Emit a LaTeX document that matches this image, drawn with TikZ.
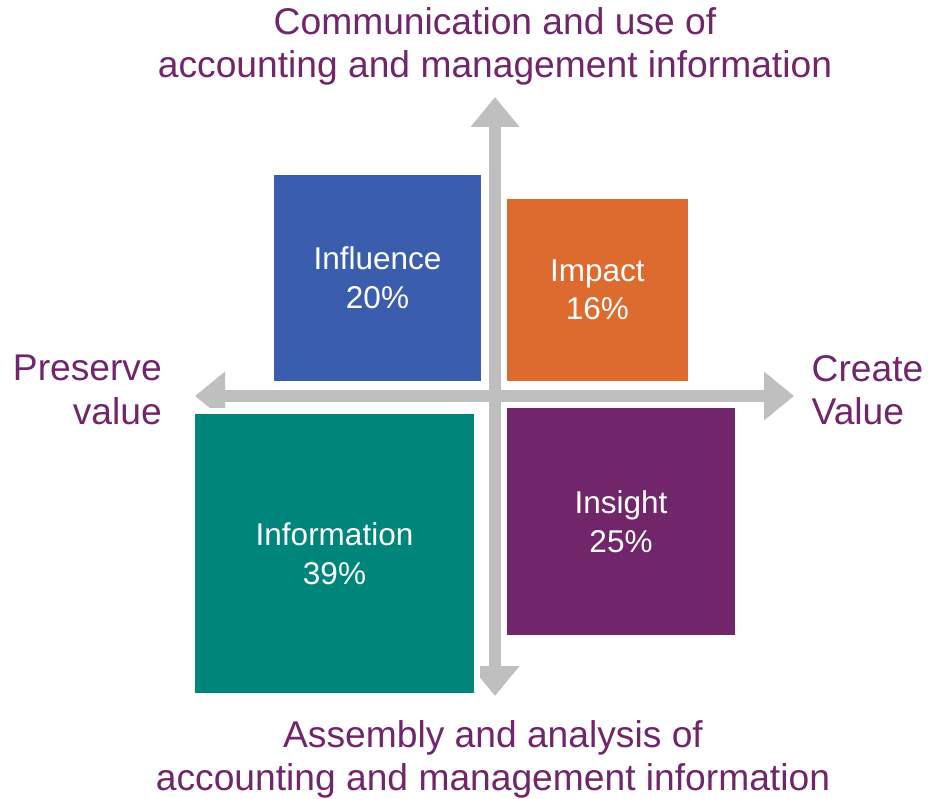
\documentclass[tikz,border=0pt]{standalone}
\usepackage{fontspec}
\setmainfont{Liberation Sans}
\usepackage{tikz}
\usetikzlibrary{arrows.meta}
\definecolor{influenceblue}{HTML}{3B5DAD}
\definecolor{impactorange}{HTML}{DD6B2F}
\definecolor{informationteal}{HTML}{00857A}
\definecolor{insightpurple}{HTML}{71256B}
\definecolor{axisgray}{HTML}{BEBFBE}

\begin{document}
\begin{tikzpicture}[x=1pt, y=-1pt,
  axis/.style={draw=axisgray, line width=11.5pt,
    arrows={Triangle[length=30pt, width=47pt]-Triangle[length=30pt, width=47pt]}},
  quadrant/.style={rectangle, draw=white, line width=6pt, text=white,
    align=center, inner sep=0pt, font=\fontsize{31.5}{38.6}\selectfont},
  sidelabel/.style={text=insightpurple, inner sep=0pt,
    font=\fontsize{37.2}{43.5}\selectfont}]
\useasboundingbox (0,0) rectangle (928,799);
% Axes
\coordinate (west) at (195,396);
\coordinate (east) at (794,396);
\coordinate (north) at (495,97);
\coordinate (south) at (495,696);
\draw [axis] (west) -- (east);
\draw [axis] (north) -- (south);
% Quadrants
\node [quadrant, fill=influenceblue, minimum width=212.4pt, minimum height=211.7pt] (influence) at (377.5,278) {Influence\\20\%};
\node [quadrant, fill=impactorange, minimum width=187.3pt, minimum height=187.7pt] (impact) at (597.3,289.8) {Impact\\16\%};
\node [quadrant, fill=informationteal, minimum width=285pt, minimum height=285pt] (information) at (334.5,553.5) {Information\\39\%};
\node [quadrant, fill=insightpurple, minimum width=234pt, minimum height=233pt] (insight) at (621,521.5) {Insight\\25\%};
% Labels
\node [sidelabel, align=center] (communication) at (495,46.5) {Communication and use of\\accounting and management information};
\node [sidelabel, align=center] (assembly) at (493,759.5) {Assembly and analysis of\\accounting and management information};
\node [sidelabel, align=right, anchor=east] (preserve) at (162,390) {Preserve\\value};
\node [sidelabel, align=left, anchor=west] (create) at (811.5,390) {Create\\Value};
\end{tikzpicture}
\end{document}
